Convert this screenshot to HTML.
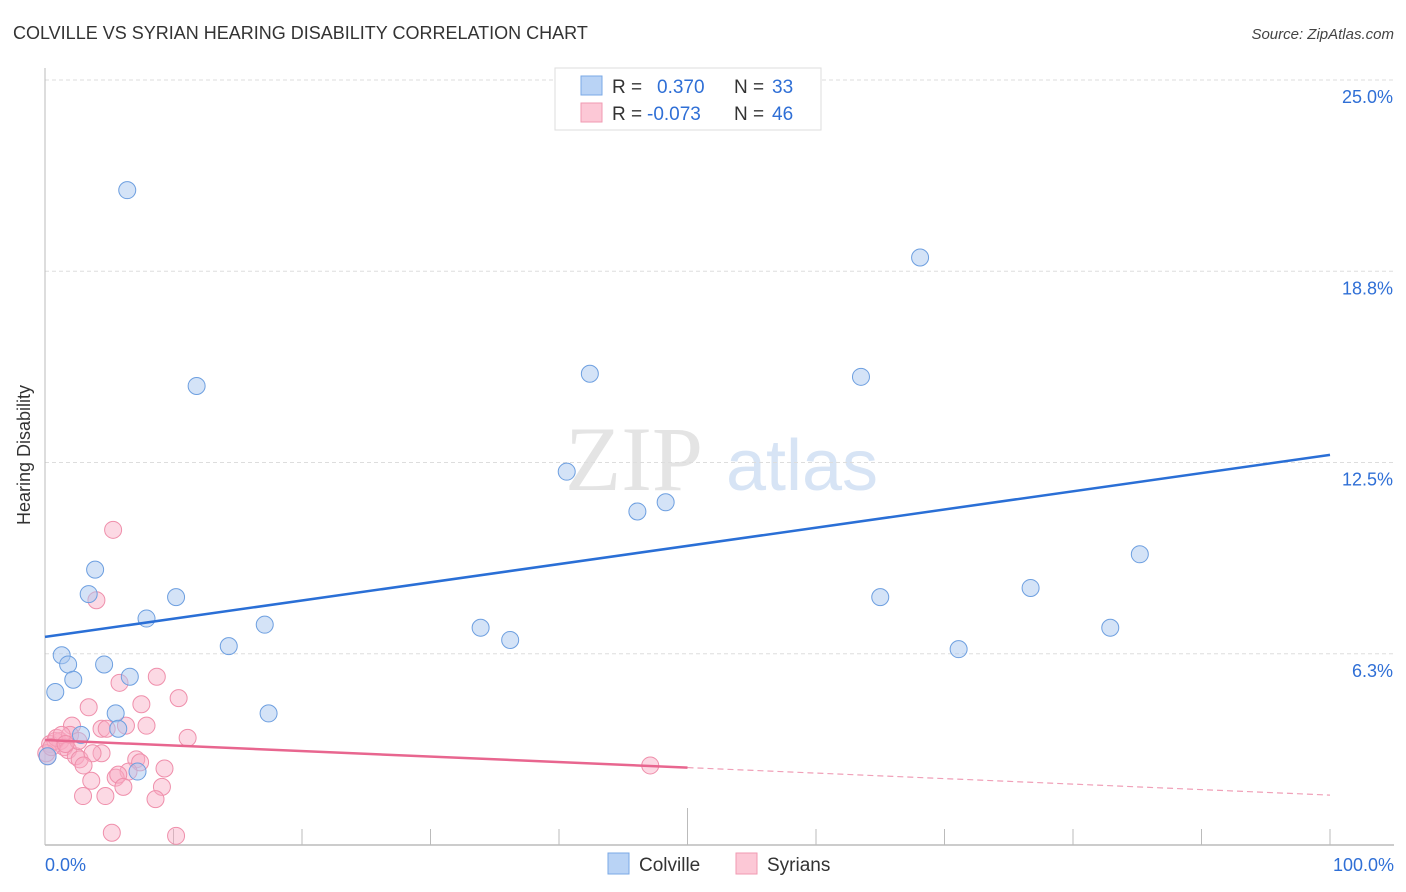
<!DOCTYPE html>
<html><head><meta charset="utf-8"><style>
body{margin:0;background:#fff;font-family:"Liberation Sans",sans-serif}
#wrap{position:relative;width:1406px;height:892px;overflow:hidden}
</style></head><body>
<div id="wrap">
<svg id="chart" width="1406" height="892" xmlns="http://www.w3.org/2000/svg">
<text x="13" y="39" font-size="18" fill="#333">COLVILLE VS SYRIAN HEARING DISABILITY CORRELATION CHART</text>
<text x="1394" y="39" font-size="15" fill="#444" font-style="italic" text-anchor="end">Source: ZipAtlas.com</text>
<text x="30" y="455" font-size="18" fill="#333" text-anchor="middle" transform="rotate(-90 30 455)">Hearing Disability</text>
<g><text x="634" y="490" font-size="92" fill="#e4e4e4" font-family="Liberation Serif,serif" text-anchor="middle">ZIP</text><text x="802" y="490" font-size="72" fill="#d7e4f5" text-anchor="middle">atlas</text></g>
<g id="grid"></g><g id="pts"></g><g id="lines"></g>
<g>
<rect x="555" y="68" width="266" height="62" fill="#fff" stroke="#ddd"/>
<rect x="581" y="76" width="21" height="19" fill="#b9d3f5" stroke="#7aa8e6"/>
<rect x="581" y="103" width="21" height="19" fill="#fcc8d6" stroke="#f09ab2"/>
<text x="612" y="93" font-size="19" fill="#333">R = </text><text x="657" y="93" font-size="19" fill="#2f6fd6">0.370</text>
<text x="734" y="93" font-size="19" fill="#333">N = </text><text x="772" y="93" font-size="19" fill="#2f6fd6">33</text>
<text x="612" y="120" font-size="19" fill="#333">R = </text><text x="647" y="120" font-size="19" fill="#2f6fd6">-0.073</text>
<text x="734" y="120" font-size="19" fill="#333">N = </text><text x="772" y="120" font-size="19" fill="#2f6fd6">46</text>
</g>
<g>
<rect x="608" y="853" width="21" height="21" fill="#b9d3f5" stroke="#7aa8e6"/><text x="639" y="871" font-size="19" fill="#333">Colville</text>
<rect x="736" y="853" width="21" height="21" fill="#fcc8d6" stroke="#f09ab2"/><text x="767" y="871" font-size="19" fill="#333">Syrians</text>
</g>
</svg></div>
<script>
const yTicks=[6.25,12.5,18.75,25];
const yTickLabels=["6.3%","12.5%","18.8%","25.0%"];
const xTickLabels=["0.0%","100.0%"];
const colvilleX=[6.4,11.8,42.4,68.1,63.5,40.6,46.1,48.3,85.2,3.9,3.4,10.2,65.0,76.7,7.9,17.1,33.9,36.2,82.9,14.3,71.1,1.3,1.8,4.6,2.2,6.6,0.8,5.5,17.4,5.7,2.8,7.2,0.2];
const colvilleY=[21.4,15.0,15.4,19.2,15.3,12.2,10.9,11.2,9.5,9.0,8.2,8.1,8.1,8.4,7.4,7.2,7.1,6.7,7.1,6.5,6.4,6.2,5.9,5.9,5.4,5.5,5.0,4.3,4.3,3.8,3.6,2.4,2.9];
const syriansX=[5.3,4.0,8.7,5.8,10.4,3.4,7.5,2.1,4.4,4.8,6.3,7.9,11.1,1.2,0.4,0.8,1.5,1.8,2.4,2.7,4.4,3.7,7.1,7.4,3.0,9.3,6.5,5.5,3.6,5.7,6.1,9.1,2.96,4.7,8.6,5.2,10.2,47.1,0.2,0.1,0.9,1.95,0.5,1.3,2.6,1.6];
const syriansY=[10.3,8.0,5.5,5.3,4.8,4.5,4.6,3.9,3.8,3.8,3.9,3.9,3.5,3.4,3.3,3.4,3.2,3.1,2.9,2.8,3.0,3.0,2.8,2.7,2.6,2.5,2.4,2.2,2.1,2.3,1.9,1.9,1.6,1.6,1.5,0.4,0.3,2.6,2.9,3.0,3.5,3.6,3.2,3.6,3.4,3.3];
const trendColville=[6.8,0.0595];
const trendSyrians=[3.43,-0.018];
const X=v=>45+v*12.85, Y=v=>845-v*30.6;
const NS="http://www.w3.org/2000/svg";
function mk(p,t,a){const e=document.createElementNS(NS,t);for(const k in a)e.setAttribute(k,a[k]);p.appendChild(e);return e;}
const g=document.getElementById('grid');
yTicks.forEach((t,i)=>{
 const l=mk(g,'line',{x1:45,x2:1394,y1:Y(t),y2:Y(t),stroke:'#ddd','stroke-dasharray':'4,3'});
 
 
 const tx=mk(g,'text',{x:1393,y:Y(t)+23,'font-size':18,fill:'#2f6fd6','text-anchor':'end'});tx.textContent=yTickLabels[i];
 
 
});
const ax=mk(g,'line',{x1:45,x2:45,y1:68,y2:845,stroke:'#bbb'});


const bx=mk(g,'line',{x1:45,x2:1394,y1:845,y2:845,stroke:'#bbb','stroke-width':1.5});


for(let k=1;k<=10;k++){const tk=mk(g,'line',{x1:X(k*10),x2:X(k*10),y1:k==5?808:829,y2:845,stroke:'#bbb'});
 
 }
[[0,'start',45],[100,'end',1394]].forEach((d,i)=>{const t=mk(g,'text',{x:d[2],y:871,'font-size':18,fill:'#2f6fd6','text-anchor':d[1]});t.textContent=xTickLabels[i];
 
 });
const P=document.getElementById('pts');
syriansX.forEach((x,i)=>{const c=mk(P,'circle',{cx:X(x),cy:Y(syriansY[i]),r:8.5,fill:'rgba(248,170,195,0.45)',stroke:'#ef8fab','stroke-width':1});
 
 });
colvilleX.forEach((x,i)=>{const c=mk(P,'circle',{cx:X(x),cy:Y(colvilleY[i]),r:8.5,fill:'rgba(170,200,240,0.5)',stroke:'#6d9fe0','stroke-width':1});
 
 });
const L=document.getElementById('lines');
const tl=(a,x)=>a[0]+a[1]*x;
let e=mk(L,'line',{x1:X(0),y1:Y(tl(trendColville,0)),x2:X(100),y2:Y(tl(trendColville,100)),stroke:'#2a6fd6','stroke-width':2.5});


e=mk(L,'line',{x1:X(0),y1:Y(tl(trendSyrians,0)),x2:X(50),y2:Y(tl(trendSyrians,50)),stroke:'#e8668f','stroke-width':2.5});


e=mk(L,'line',{x1:X(50),y1:Y(tl(trendSyrians,50)),x2:X(100),y2:Y(tl(trendSyrians,100)),stroke:'#f0a0b8','stroke-width':1.2,'stroke-dasharray':'6,4'});


</script>
</body></html>
